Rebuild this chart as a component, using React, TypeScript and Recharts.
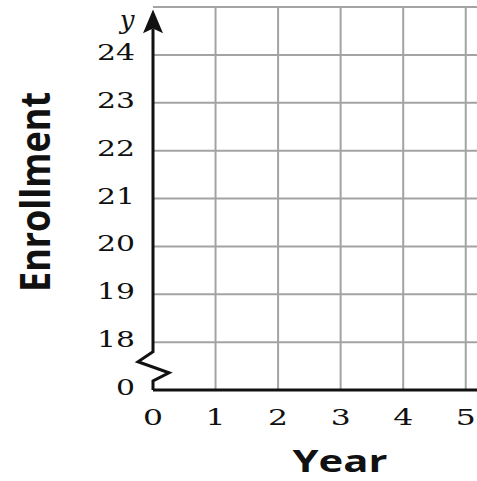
import { ComposedChart, XAxis, YAxis, CartesianGrid, ReferenceLine, Customized } from "recharts"

const years = [0, 1, 2, 3, 4, 5]
const enrollmentLabels = ["0", "18", "19", "20", "21", "22", "23", "24"]
const enrollmentSlots = enrollmentLabels.map((_, i) => i)
const topSlot = enrollmentLabels.length // one empty row above 24
const gridRows = [...enrollmentSlots.slice(1), topSlot]
const gridCols = years.slice(1)
const rows = years.map((year) => ({ year }))

const W = 477
const H = 481
const GRID = "#a3a3a3"
const INK = "#111"

function YTick(props: any) {
  const label = enrollmentLabels[props.payload.value] ?? ""
  return (
    <text
      x={135}
      y={props.y}
      dy={5}
      textAnchor="end"
      fontFamily="DejaVu Serif"
      fontSize={23}
      fill={INK}
      textLength={label.length * 19}
      lengthAdjust="spacingAndGlyphs"
    >
      {label}
    </text>
  )
}

function XTick(props: any) {
  const label = String(props.payload.value)
  return (
    <text
      x={props.x}
      y={425}
      textAnchor="middle"
      fontFamily="DejaVu Serif"
      fontSize={23}
      fill={INK}
      textLength={20}
      lengthAdjust="spacingAndGlyphs"
    >
      {label}
    </text>
  )
}

// y axis with the break near the bottom and the arrow at the top
function BrokenAxis(props: any) {
  const x = props.x1
  const bottom = Math.max(props.y1, props.y2)
  const top = Math.min(props.y1, props.y2)
  const unit = (bottom - top) / topSlot
  const at = (v: number) => bottom - v * unit
  const pts = [
    [x, at(0)],
    [x, at(0.19)],
    [x + 16, at(0.36)],
    [x - 15, at(0.59)],
    [x, at(0.8)],
    [x, at(7.55)],
  ]
  const tip = at(7.95)
  const base = at(7.45)
  const notch = at(7.55)
  return (
    <g>
      <polyline
        points={pts.map((p) => p.join(",")).join(" ")}
        fill="none"
        stroke={INK}
        strokeWidth={3}
        strokeLinejoin="miter"
      />
      <polygon
        points={`${x},${tip} ${x - 10},${base} ${x},${notch} ${x + 10},${base}`}
        fill={INK}
      />
      <text x={127} y={29} textAnchor="middle" fontFamily="DejaVu Serif" fontStyle="italic" fontSize={26} fill={INK}>
        y
      </text>
    </g>
  )
}

function AxisTitles() {
  return (
    <g>
      <text
        transform="translate(50,192) rotate(-90)"
        textAnchor="middle"
        fontFamily="Open Sans"
        fontWeight={700}
        fontSize={42}
        fill={INK}
        textLength={200}
        lengthAdjust="spacingAndGlyphs"
      >
        Enrollment
      </text>
      <text
        x={340}
        y={472}
        textAnchor="middle"
        fontFamily="Open Sans"
        fontWeight={700}
        fontSize={31}
        fill={INK}
        textLength={95}
        lengthAdjust="spacingAndGlyphs"
      >
        Year
      </text>
    </g>
  )
}

export default function App() {
  return (
    <div style={{ position: "absolute", left: 0, top: 0, width: W, height: H, background: "#fff" }}>
      <ComposedChart width={W} height={H} data={rows} margin={{ top: 7, right: 0, bottom: 0, left: 0 }}>
        <CartesianGrid
          stroke={GRID}
          strokeWidth={2}
          horizontalValues={gridRows}
          verticalValues={gridCols}
        />
        <XAxis
          dataKey="year"
          type="number"
          domain={[0, 5.18]}
          ticks={years}
          tick={<XTick />}
          tickLine={false}
          axisLine={{ stroke: INK, strokeWidth: 3 }}
          height={91}
          allowDataOverflow
        />
        <YAxis
          type="number"
          domain={[0, topSlot]}
          ticks={enrollmentSlots}
          tick={<YTick />}
          tickLine={false}
          axisLine={false}
          width={153}
          allowDataOverflow
        />
        <ReferenceLine x={0} stroke={INK} shape={<BrokenAxis />} ifOverflow="visible" />
        <Customized component={<AxisTitles />} />
      </ComposedChart>
    </div>
  )
}
